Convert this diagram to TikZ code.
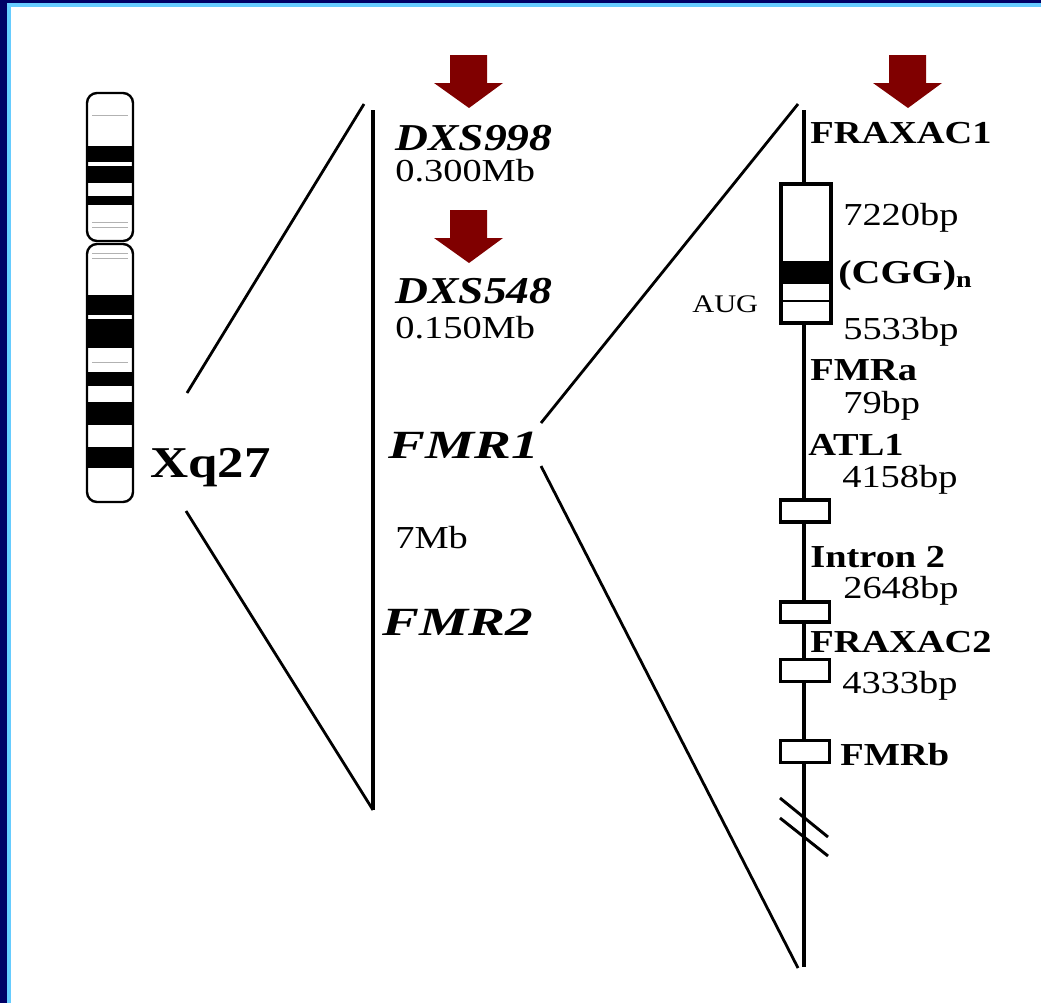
\documentclass[tikz,border=0pt]{standalone}
\usepackage{fontspec}
\setmainfont{Liberation Serif}
\definecolor{navy}{RGB}{0,0,102}
\definecolor{skyedge}{RGB}{102,204,255}
\definecolor{marker}{RGB}{128,0,0}
\begin{document}
\begin{tikzpicture}[x=0.75pt,y=-0.75pt,
  gl/.style={line width=2.1pt},
  axis/.style={line width=2.6pt},
  exon/.style={draw, fill=white, line width=2.5pt, rectangle, inner sep=0pt,
    minimum width=37pt, minimum height=16.5pt},
  lab/.style={anchor=base west, inner sep=0pt, xscale=1.2},
  plain/.style={lab, font=\fontsize{24}{24}\selectfont},
  bold/.style={lab, font=\fontsize{24}{24}\selectfont\bfseries},
  locus/.style={lab, font=\fontsize{28.5}{28.5}\selectfont\bfseries\itshape},
  gene/.style={lab, xscale=1.15, font=\fontsize{30}{30}\selectfont\bfseries\itshape},
  band/.style={fill=black},
  faint/.style={draw=black!30, line width=0.5pt},
  pics/downarrow/.style={code={
    \fill[marker] (-19,-53) -- (18,-53) -- (18,-25) -- (34,-25) -- (0,0)
      -- (-35,-25) -- (-19,-25) -- cycle;}}
]
% page and frame
\useasboundingbox (0,0) rectangle (1041,1003);
\fill[white] (0,0) rectangle (1041,1003);
\fill[navy] (0,0) rectangle (1041,3);
\fill[skyedge] (11,3) rectangle (1041,7);
\fill[navy] (0,0) rectangle (7,1003);
\fill[skyedge] (7,3) rectangle (11,1003);

% ---- X chromosome ideogram ----
\begin{scope}
  \clip[rounded corners=7.5pt] (87,93) rectangle (133,241);
  \fill[band] (87,146) rectangle (133,162);
  \fill[band] (87,166) rectangle (133,183);
  \fill[band] (87,196) rectangle (133,205);
  \draw[faint] (92,115) -- (128,115);
  \draw[faint] (92,222) -- (128,222);
  \draw[faint] (92,227) -- (128,227);
\end{scope}
\begin{scope}
  \clip[rounded corners=7.5pt] (87,244) rectangle (133,502);
  \fill[band] (87,295) rectangle (133,315);
  \fill[band] (87,319) rectangle (133,348);
  \fill[band] (87,372) rectangle (133,386);
  \fill[band] (87,402) rectangle (133,425);
  \fill[band] (87,447) rectangle (133,468);
  \draw[faint] (92,253) -- (128,253);
  \draw[faint] (92,258) -- (128,258);
  \draw[faint] (92,362) -- (128,362);
\end{scope}
\draw[line width=1.8pt, rounded corners=7.5pt] (87,93) rectangle (133,241);
\draw[line width=1.8pt, rounded corners=7.5pt] (87,244) rectangle (133,502);
\node[bold, font=\fontsize{33}{33}\selectfont\bfseries] (xq) at (150,477) {Xq27};

% ---- 7 Mb region ----
\coordinate (zoomA1) at (187,393);
\coordinate (zoomA2) at (186,511);
\coordinate (regTopL) at (364,104);
\coordinate (regTop) at (373,110);
\coordinate (regBot) at (373,810);
\draw[gl] (zoomA1) -- (regTopL);
\draw[gl] (zoomA2) -- (regBot);
\draw[axis, line width=2.3pt] (regTop) -- (regBot);

\pic at (469,108) {downarrow};
\pic at (469,263) {downarrow};
\node[locus] (dxs998) at (395,150) {DXS998};
\node[plain] (mb300) at (395,181) {0.300Mb};
\node[locus] (dxs548) at (395,303) {DXS548};
\node[plain] (mb150) at (395,338) {0.150Mb};
\node[gene] (fmr1) at (388,458) {FMR1};
\node[plain] (mb7) at (395,548) {7Mb};
\node[gene] (fmr2) at (382,635) {FMR2};

% ---- FMR1 gene ----
\coordinate (zoomB1) at (541,423);
\coordinate (zoomB2) at (541,466);
\coordinate (geneTopL) at (798,104);
\coordinate (geneTop) at (804,110);
\coordinate (geneBotL) at (798,968);
\coordinate (geneBot) at (804,967);
\draw[gl] (zoomB1) -- (geneTopL);
\draw[gl] (zoomB2) -- (geneBotL);
\draw[axis] (geneTop) -- (geneBot);

\pic at (908,108) {downarrow};
\node[bold] (fraxac1) at (810,143) {FRAXAC1};

% exon 1 with the CGG repeat
\node[exon, minimum height=104pt] (ex1) at (806,253.5) {};
\fill[black] (781,261) rectangle (831,284);
\draw[line width=2pt] (781,301) -- (831,301);
\draw[line width=2.5pt] (781,184) rectangle (831,323);
\node[plain] (bp7220) at (843,225) {7220bp};
\node[bold, font=\fontsize{25}{25}\selectfont\bfseries] (cgg) at (838,283) {(CGG)\textsubscript{n}};
\node[plain, font=\fontsize{19}{19}\selectfont] (aug) at (692,312) {AUG};
\node[plain] (bp5533) at (843,339) {5533bp};
\node[bold] (fmra) at (810,380) {FMRa};
\node[plain] (bp79) at (843,413) {79bp};
\node[bold] (atl1) at (808,455) {ATL1};
\node[plain] (bp4158) at (842,487) {4158bp};
\node[exon] (ex2) at (805,511) {};
\node[bold] (intron2) at (810,567) {Intron 2};
\node[plain] (bp2648) at (843,598) {2648bp};
\node[exon, minimum height=15pt] (ex3) at (805,612) {};
\node[bold] (fraxac2) at (810,652) {FRAXAC2};
\node[exon] (ex4) at (805,670.5) {};
\node[plain] (bp4333) at (842,693) {4333bp};
\node[exon] (ex5) at (805,751.5) {};
\node[bold] (fmrb) at (840,765) {FMRb};

% break in the gene axis
\draw[line width=2.2pt] (780,798) -- (828,837);
\draw[line width=2.2pt] (780,818) -- (828,856);
\end{tikzpicture}
\end{document}
